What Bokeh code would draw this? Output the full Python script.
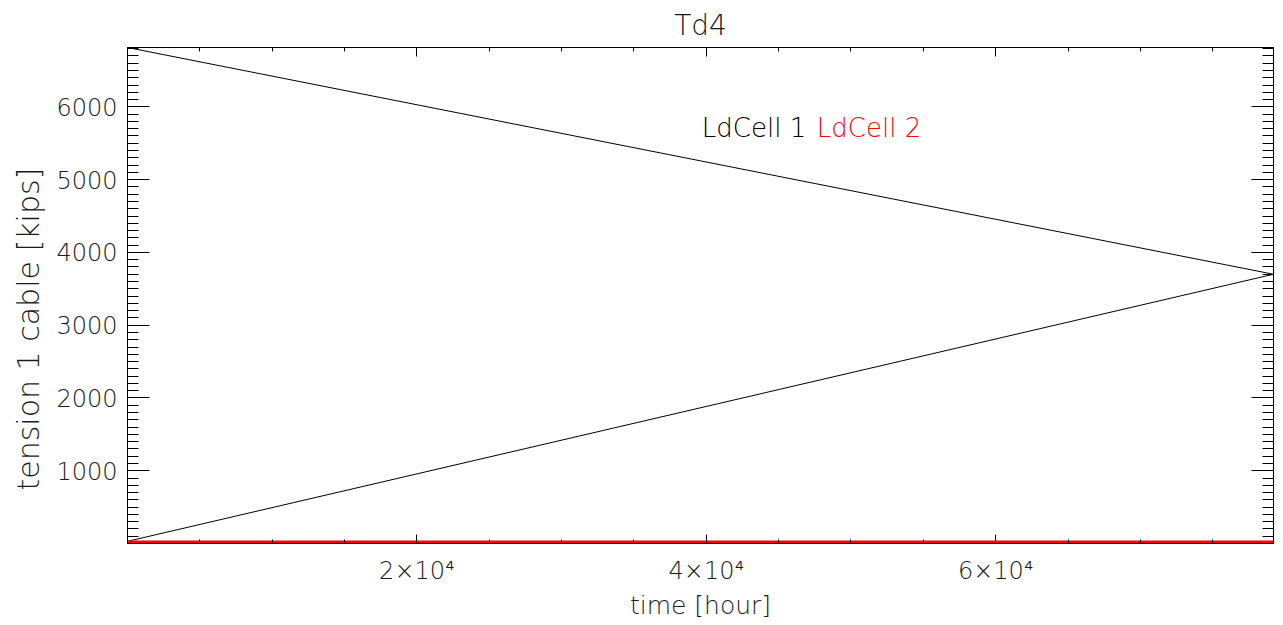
from bokeh.plotting import figure
from bokeh.models import Range1d, LinearAxis, FixedTicker, Label, Title
from bokeh.embed import file_html
from bokeh.resources import INLINE

# ---- data ----
time_ld1 = [0, 79200, 0]
tension_ld1 = [6816, 3700, 30]
time_ld2 = [0, 79200]
tension_ld2 = [20, 20]
series_names = ["LdCell 1", "LdCell 2"]
series_colors = ["black", "#ff0000"]

x_range_vals = [0, 79200]
y_range_vals = [0, 6816]
x_major = [20000, 40000, 60000]
x_tick_labels = ["2×10⁴", "4×10⁴", "6×10⁴"]
x_minor = list(range(5000, 80000, 5000))
y_major = [1000, 2000, 3000, 4000, 5000, 6000]
y_minor = list(range(100, 6900, 100))

FONT = "'DejaVu Sans Light', 'DejaVu Sans'"
TXT = "#1a1a1a"

p = figure(frame_width=1146, frame_height=496,
           x_range=Range1d(*x_range_vals), y_range=Range1d(*y_range_vals),
           output_backend="svg", toolbar_location=None,
           min_border_left=127, min_border_right=2, min_border_top=47, min_border_bottom=75)
p.title.text = "Td4"
p.title.align = "center"
p.title.text_font = FONT
p.title.text_font_size = "28px"
p.title.text_font_style = "normal"
p.title.text_color = TXT
p.title.standoff = 12
p.grid.visible = False
p.outline_line_color = "black"
p.background_fill_color = "white"
p.border_fill_color = "white"

xt = FixedTicker(ticks=x_major, minor_ticks=x_minor)
yt = FixedTicker(ticks=y_major, minor_ticks=y_minor)

def style(ax, ticker, maj, mnr, labels=True):
    ax.ticker = ticker
    ax.major_tick_in = maj
    ax.major_tick_out = 0
    ax.minor_tick_in = mnr
    ax.minor_tick_out = 0
    ax.axis_line_color = "black"
    ax.major_tick_line_color = "black"
    ax.minor_tick_line_color = "black"
    ax.major_label_text_font = FONT
    ax.major_label_text_color = TXT
    if not labels:
        ax.major_label_overrides = {v: "" for v in ticker.ticks}
        ax.major_label_standoff = 0

xa = p.xaxis[0]
style(xa, xt, 9, 4)
xa.major_label_overrides = {v: s for v, s in zip(x_major, x_tick_labels)}
xa.major_label_text_font_size = "24px"
xa.major_label_standoff = 13

ya = p.yaxis[0]
style(ya, yt, 22, 11)
ya.major_label_text_font_size = "24px"
ya.major_label_standoff = 10

top = LinearAxis()
style(top, xt, 9, 4, labels=False)
p.add_layout(top, "above")
right = LinearAxis()
style(right, yt, 22, 11, labels=False)
p.add_layout(right, "right")

p.line(time_ld1, tension_ld1, line_color=series_colors[0], line_width=1)
p.line(time_ld2, tension_ld2, line_color=series_colors[1], line_width=3)

p.add_layout(Label(x=39690, y=5712, text=series_names[0], text_font=FONT,
                   text_font_size="26px", text_color=series_colors[0],
                   text_baseline="alphabetic"))
p.add_layout(Label(x=47636, y=5712, text=series_names[1], text_font=FONT,
                   text_font_size="26px", text_color=series_colors[1],
                   text_baseline="alphabetic"))

p.add_layout(Title(text="time [hour]", align="center", text_font=FONT,
                   text_font_size="25px", text_font_style="normal", text_color=TXT,
                   standoff=2), "below")
p.add_layout(Title(text="tension 1 cable [kips]", align="left", offset=53,
                   text_font=FONT, text_font_size="30px", text_font_style="normal",
                   text_color=TXT, standoff=16), "left")

open("out.html", "w").write(file_html(p, INLINE))
